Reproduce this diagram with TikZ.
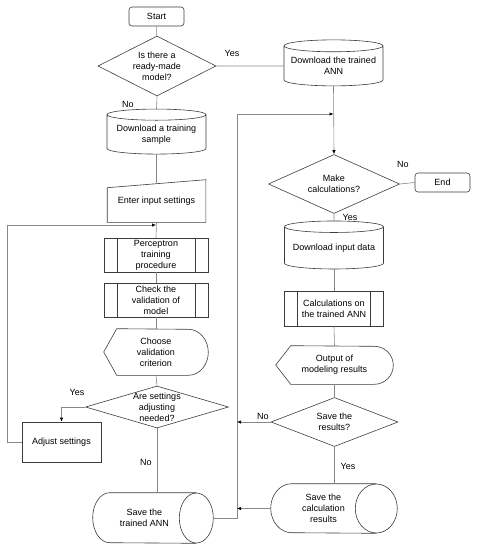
\documentclass[tikz,border=0pt]{standalone}
\usepackage{fontspec}
\setmainfont{Liberation Sans}
\usetikzlibrary{shapes.geometric,arrows.meta}
\definecolor{edgegray}{RGB}{60,60,60}
\definecolor{linegray}{RGB}{135,135,135}
\tikzset{
  base/.style={font=\fontsize{9}{11}\selectfont, align=center, draw=edgegray, line width=0.6pt},
  term/.style={base, rectangle, rounded corners=3pt, minimum width=55pt, minimum height=19pt, inner sep=0pt},
  decision/.style={base, diamond, inner sep=0pt},
  dbase/.style={base, cylinder, shape border rotate=90, aspect=0.14, inner sep=0pt},
  proc/.style={base, rectangle, inner sep=0pt, minimum width=104pt, minimum height=34pt,
    path picture={\draw[edgegray, line width=0.6pt]
      ([xshift=13pt]path picture bounding box.north west) -- ([xshift=13pt]path picture bounding box.south west)
      ([xshift=-13pt]path picture bounding box.north east) -- ([xshift=-13pt]path picture bounding box.south east);}},
  plain/.style={base, rectangle, inner sep=0pt},
  outline/.style={draw=edgegray, line width=0.6pt},
  lbl/.style={font=\fontsize{9}{11}\selectfont, inner sep=0pt},
  every label/.style={font=\fontsize{9}{11}\selectfont, align=center, inner sep=0pt},
  line/.style={draw=linegray, line width=0.6pt},
  arr/.style={line, -{Latex[length=4pt,width=3.4pt,fill=black,color=black]}}
}
\begin{document}
\begin{tikzpicture}[x=1pt, y=-1pt]
  \useasboundingbox (0,0) rectangle (477,550);
  % left column
  \node[term] (start) at (156.5,16.5) {Start};
  \node[decision, minimum width=118pt, minimum height=60pt,
    label={center:Is there a\\ready-made\\model?}] (model) at (157,66) {};
  \node[dbase, minimum width=99pt, minimum height=45pt] (sample) at (156.5,134.5) {Download a training\\sample};
  \node[plain, draw=none, minimum width=98pt, minimum height=42pt] (input) at (156.5,201) {Enter input settings};
  \draw[outline] (input.south west) -- ([yshift=-8pt]input.north west)
    -- (input.north east) -- (input.south east) -- cycle;
  \node[proc] (train) at (156,255) {Perceptron\\training\\procedure};
  \node[proc] (check) at (156,300) {Check the\\validation of\\model};
  \node[plain, draw=none, minimum width=104pt, minimum height=46pt] (crit) at (156,352) {Choose\\validation\\criterion};
  \draw[outline] ([xshift=13pt]crit.north west) -- (crit.west)
    -- ([xshift=13pt]crit.south west) -- ([xshift=-20pt]crit.south east)
    arc[start angle=-90, end angle=90, x radius=20pt, y radius=23pt] -- cycle;
  \node[decision, minimum width=143pt, minimum height=42pt,
    label={center:Are settings\\adjusting\\needed?}] (adjq) at (157,407) {};
  \node[plain, minimum width=79pt, minimum height=40pt] (adjust) at (61.5,442) {Adjust settings};
  \node[plain, draw=none, minimum width=103pt, minimum height=50pt] (savenet) at (144.5,518) {Save the\\trained ANN};
  \draw[outline] (savenet.east) ellipse[x radius=17pt, y radius=25pt];
  \draw[outline] (savenet.north east) -- ([xshift=17pt]savenet.north west)
    arc[start angle=90, end angle=270, x radius=17pt, y radius=25pt] -- (savenet.south east);
  % right column
  \node[dbase, minimum width=99pt, minimum height=46pt] (loadnet) at (333.5,66) {Download the trained\\ANN};
  \node[decision, minimum width=131pt, minimum height=59pt,
    label={center:Make\\calculations?}] (calc) at (334,184) {};
  \node[term] (end) at (442.5,182.5) {End};
  \node[dbase, minimum width=99pt, minimum height=48pt] (data) at (334,248) {Download input data};
  \node[proc, minimum width=99pt, minimum height=35pt] (run) at (334,308.5) {Calculations on\\the trained ANN};
  \node[plain, draw=none, minimum width=117pt, minimum height=38pt] (output) at (334.5,365) {Output of\\modeling results};
  \draw[outline] ([xshift=15pt]output.north west) -- (output.west)
    -- ([xshift=15pt]output.south west) -- ([xshift=-19pt]output.south east)
    arc[start angle=-90, end angle=90, x radius=19pt, y radius=19pt] -- cycle;
  \node[decision, minimum width=127pt, minimum height=49pt,
    label={center:Save the\\results?}] (saveq) at (334.5,422) {};
  \node[plain, draw=none, minimum width=105pt, minimum height=49pt] (saveres) at (323.5,508.5) {Save the\\calculation\\results};
  \draw[outline] (saveres.east) ellipse[x radius=21pt, y radius=24.5pt];
  \draw[outline] (saveres.north east) -- ([xshift=21pt]saveres.north west)
    arc[start angle=90, end angle=270, x radius=21pt, y radius=24.5pt] -- (saveres.south east);
  % labels
  \node[lbl] (yes1) at (232,53) {Yes};
  \node[lbl] (no1) at (128,104) {No};
  \node[lbl] (no2) at (403,164) {No};
  \node[lbl] (yes2) at (350,217) {Yes};
  \node[lbl] (yes3) at (77,392) {Yes};
  \node[lbl] (no3) at (146,462) {No};
  \node[lbl] (no4) at (263,416) {No};
  \node[lbl] (yes4) at (348,466) {Yes};
  \coordinate (loopA) at (156,225);
  \coordinate (loopB) at (333.5,114);
  \coordinate (rail) at (237,114);
  % connectors
  \draw[line] (start) -- (model);
  \draw[line] (model.east) -- (loadnet.west);
  \draw[line] (model.south) -- (sample.south |- sample.north);
  \draw[line] (sample.south) -- ([yshift=-4pt]input.north);
  \draw[line] (input.south) -- (train.north);
  \draw[line] (train) -- (check);
  \draw[line] (check) -- (crit.north);
  \draw[line] (crit.south) -- (adjq.north);
  \draw[arr] (adjq.west) -| (adjust.north);
  \draw[arr] (adjust.west) -- ++(-14,0) |- (loopA);
  \draw[line] (adjq.south) -- (adjq.south |- savenet.north);
  \draw[arr] ([xshift=17pt]savenet.east) -- (savenet.east -| rail) -- (rail) -- (loopB);
  \draw[arr] (loadnet.south) -- (calc.north);
  \draw[line] (calc.east) -- (end.west);
  \draw[line] (calc.south) -- (data.north);
  \draw[line] (data.south) -- (run.north);
  \draw[line] (run.south) -- (output.north);
  \draw[line] (output.south) -- (saveq.north);
  \draw[arr] (saveq.west) -- (saveq.west -| rail);
  \draw[line] (saveq.south) -- (saveq.south |- saveres.north);
  \draw[arr] (saveres.west) -- (saveres.west -| rail);
\end{tikzpicture}
\end{document}
